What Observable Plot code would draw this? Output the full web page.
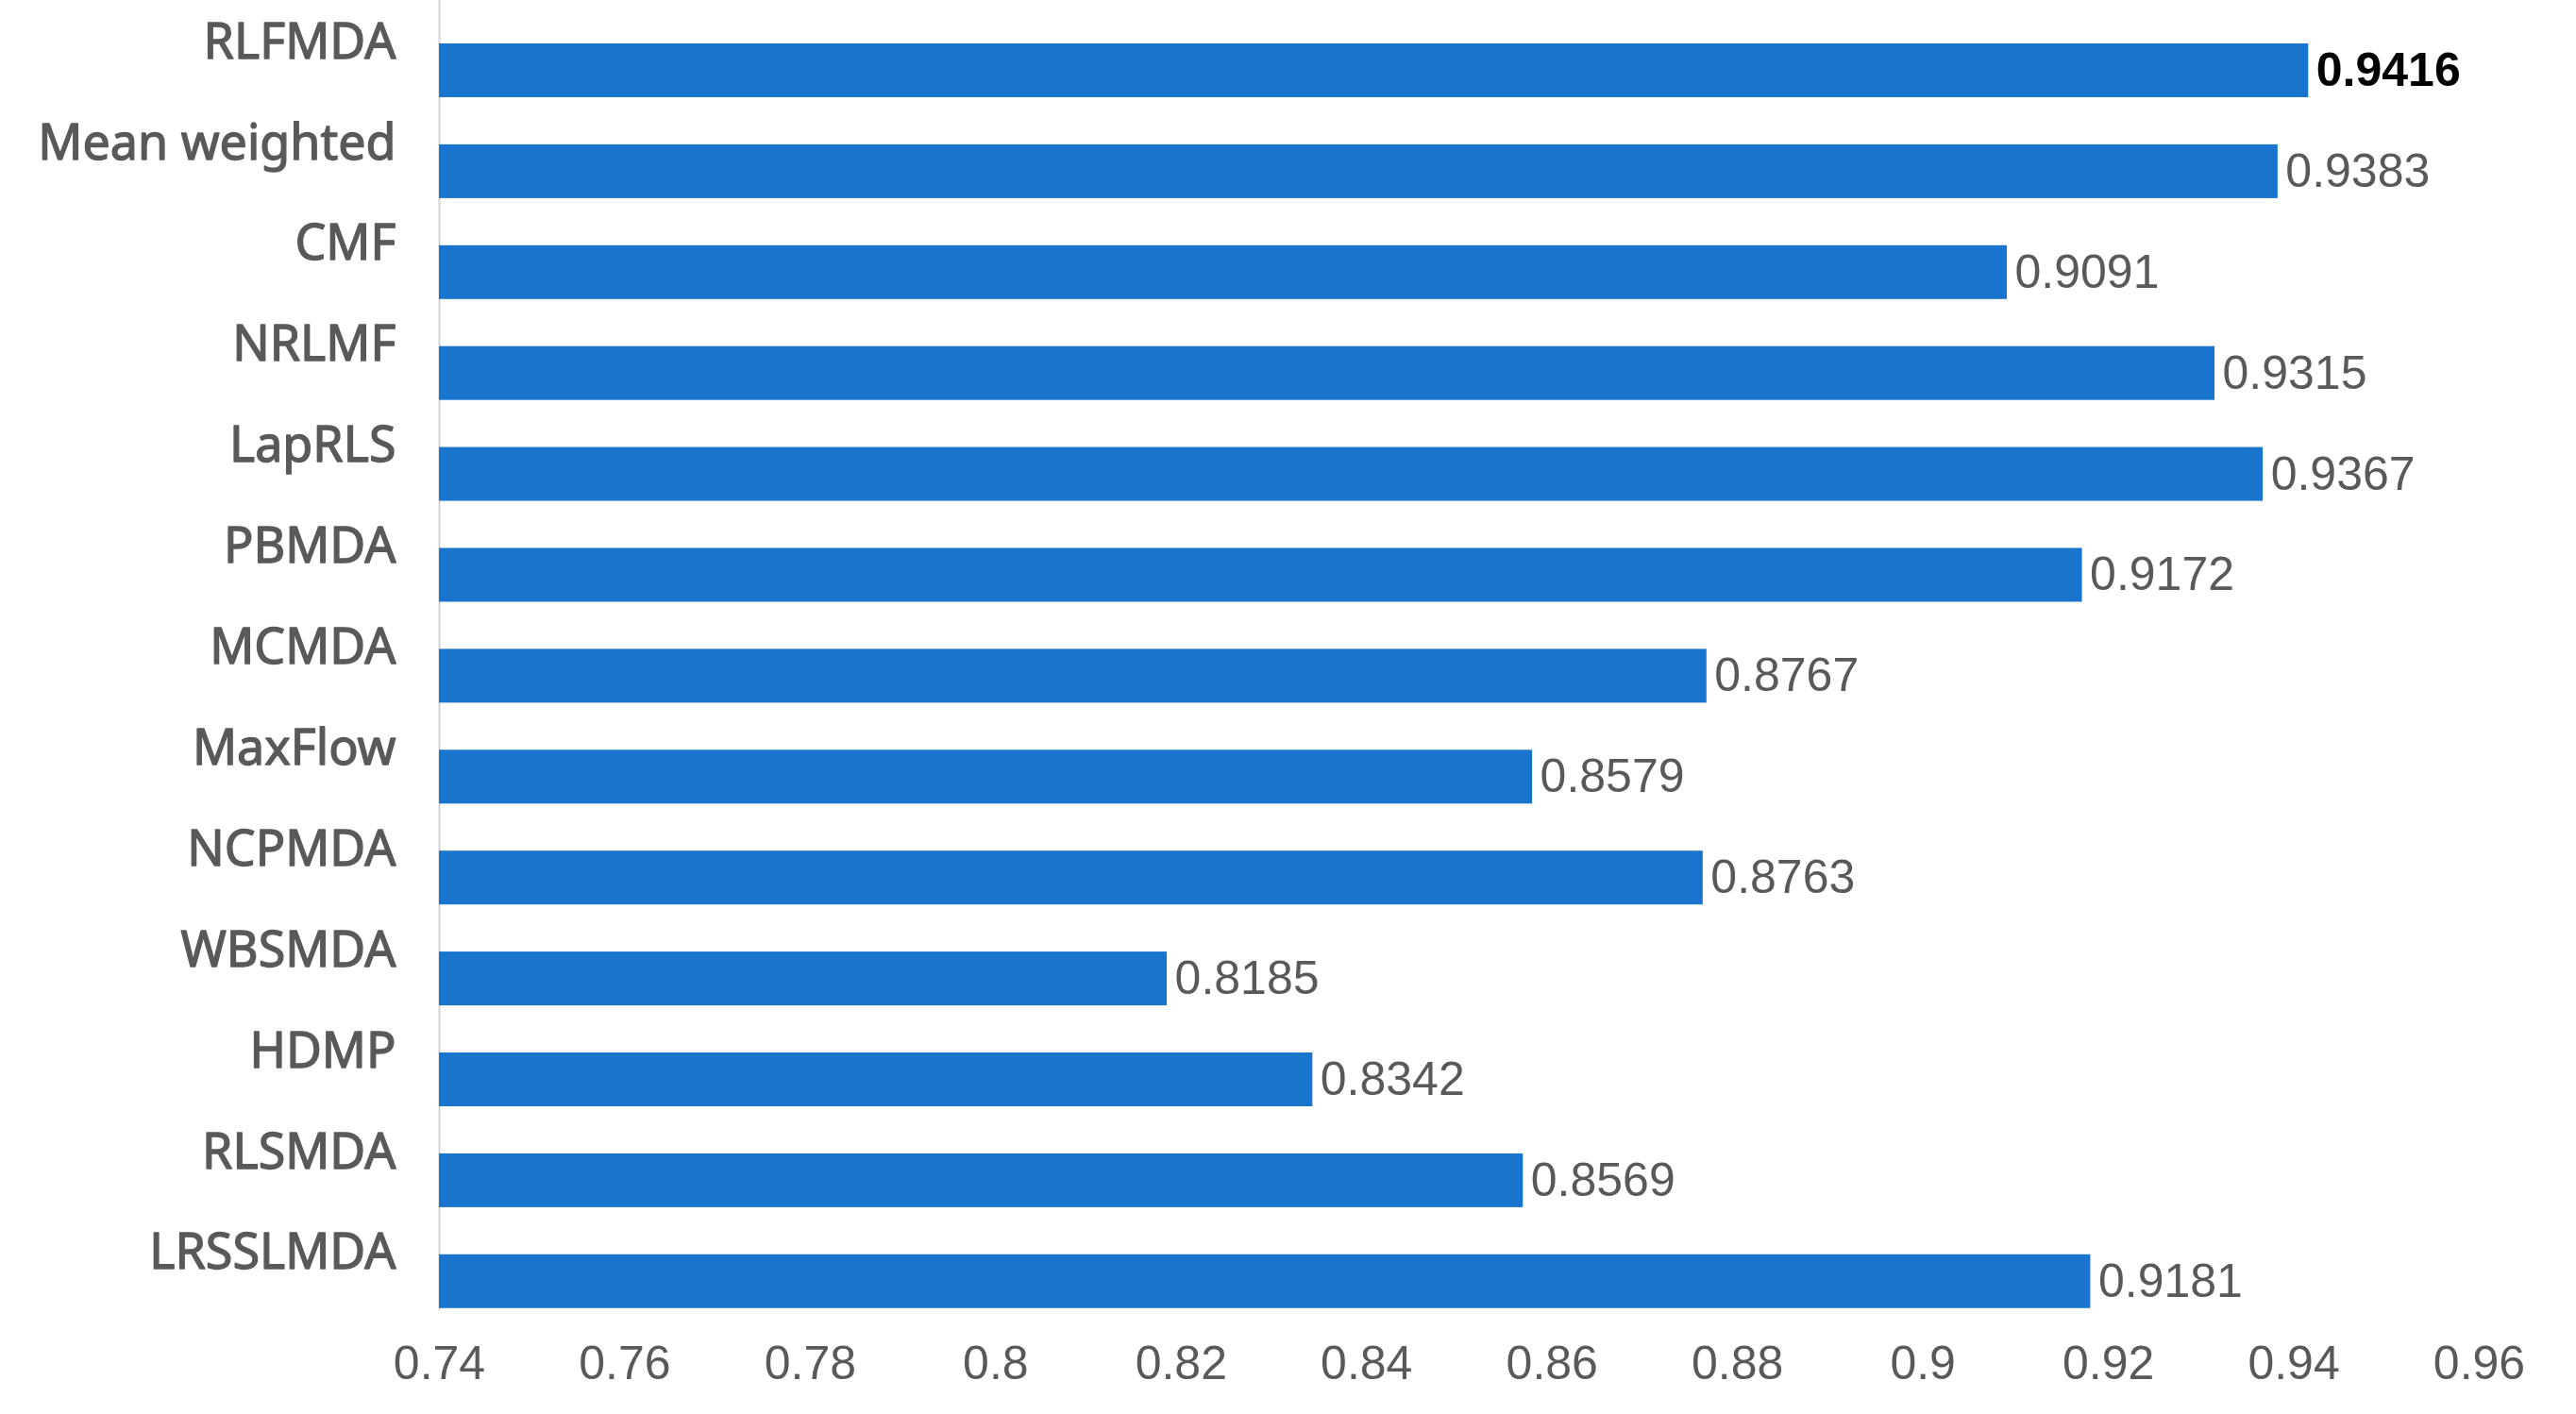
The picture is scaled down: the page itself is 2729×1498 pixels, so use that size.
<!DOCTYPE html>
<html>
<head>
<meta charset="utf-8">
<script src="https://cdn.jsdelivr.net/npm/d3@7"></script>
<script src="https://cdn.jsdelivr.net/npm/@observablehq/plot@0.6"></script>
<style>
  html, body { margin: 0; padding: 0; background: #ffffff; }
  #chart svg { display: block; }
</style>
</head>
<body>
<div id="chart"></div>
<script>
// Data
const methods = ["RLFMDA", "Mean weighted", "CMF", "NRLMF", "LapRLS", "PBMDA", "MCMDA", "MaxFlow", "NCPMDA", "WBSMDA", "HDMP", "RLSMDA", "LRSSLMDA"];
const auc = [0.9416, 0.9383, 0.9091, 0.9315, 0.9367, 0.9172, 0.8767, 0.8579, 0.8763, 0.8185, 0.8342, 0.8569, 0.9181];
const xTicks = [0.74, 0.76, 0.78, 0.80, 0.82, 0.84, 0.86, 0.88, 0.90, 0.92, 0.94, 0.96];
const xMin = 0.74;
const xMax = 0.96;

const data = methods.map((m, i) => ({method: m, auc: auc[i]}));
const best = d3.max(auc);

const chart = Plot.plot({
  width: 2729,
  height: 1498,
  marginLeft: 465,
  marginRight: 103,
  marginTop: 0,
  marginBottom: 110,
  style: {background: "#ffffff"},
  x: {domain: [xMin, xMax], ticks: xTicks, label: null},
  y: {domain: methods, paddingInner: 0.467, paddingOuter: 0.2255, align: 0.954, round: false, label: null, axis: null},
  marks: [
    Plot.ruleX([xMin], {stroke: "#d4d4d4", strokeWidth: 2}),
    Plot.barX(data, {x1: () => xMin, x2: "auc", y: "method", fill: "#1874CD"}),
    Plot.axisX({
      ticks: xTicks, tickSize: 0, tickPadding: 37, label: null,
      tickFormat: d => String(+d.toFixed(2)),
      fontSize: 50, fill: "#595959", fontFamily: "Liberation Sans", stroke: null
    }),
    // category labels (y axis), slightly heavier than regular
    Plot.text(data, {
      x: () => xMin, y: "method", text: "method",
      dx: -46, dy: -30, textAnchor: "end",
      fontSize: 52, fill: "#595959", stroke: "#595959", strokeWidth: 1.3,
      fontFamily: "Noto Sans"
    }),
    Plot.text(data, {
      filter: d => d.auc !== best,
      x: "auc", y: "method", text: d => d.auc.toFixed(4),
      dx: 8, textAnchor: "start", fontSize: 50, fill: "#595959", fontFamily: "Liberation Sans"
    }),
    Plot.text(data, {
      filter: d => d.auc === best,
      x: "auc", y: "method", text: d => d.auc.toFixed(4),
      dx: 8, textAnchor: "start", fontSize: 50, fill: "#000000", fontWeight: "bold", fontFamily: "Liberation Sans"
    })
  ]
});

document.getElementById("chart").appendChild(chart);
</script>
</body>
</html>
